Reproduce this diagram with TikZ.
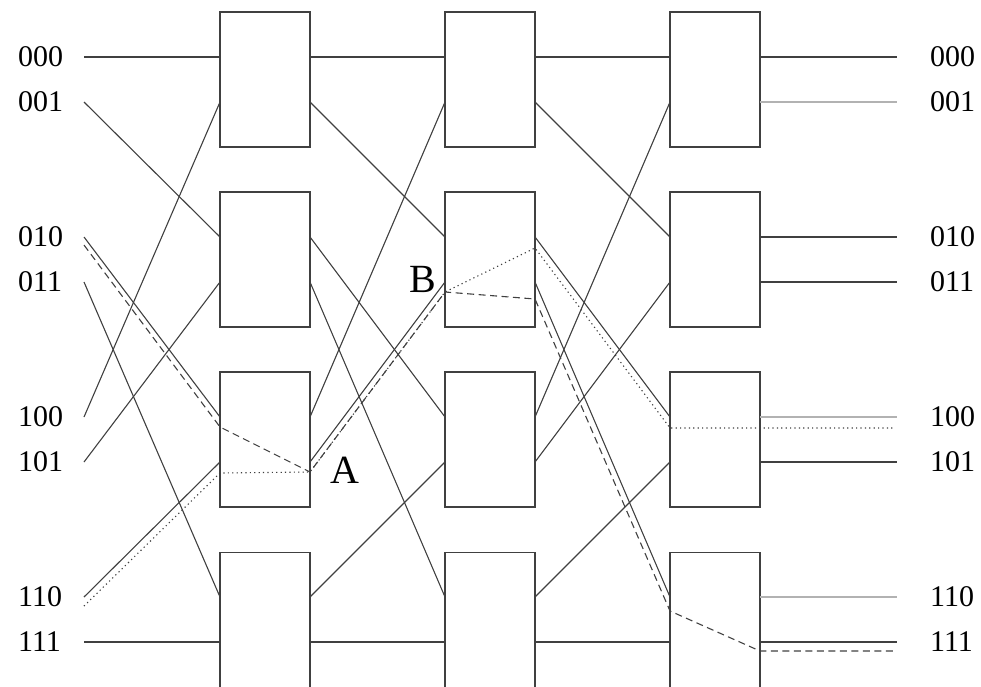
\documentclass[tikz,border=0pt]{standalone}
\usepackage{fontspec}
\setmainfont{Liberation Serif}
\begin{document}
\begin{tikzpicture}[x=1pt,y=-1pt,
  wire/.style={draw=black!75,line width=1.1pt},
  greywire/.style={draw=black!30,line width=1.1pt},
  sw/.style={draw=black!75,line width=1.1pt,fill=white,minimum width=90pt,minimum height=135pt,inner sep=0pt,outer sep=0pt},
  dashpath/.style={draw=black!75,line width=1.1pt,dash pattern=on 7pt off 4.5pt},
  dotpath/.style={draw=black!75,line width=1.1pt,dash pattern=on 1.2pt off 3.2pt},
  lab/.style={font=\fontsize{30}{30}\selectfont,inner sep=0pt,anchor=west},
  big/.style={font=\fontsize{40}{40}\selectfont,inner sep=0pt}]
\useasboundingbox (0,0) rectangle (981,686);
% switch boxes
\foreach \c/\x in {1/265,2/490,3/715}{
  \foreach \r/\y in {1/79.5,2/259.5,3/439.5,4/620}{
    \node[sw] (s\c\r) at (\x,\y) {};
  }
}
% ports and terminals
\foreach \k/\y/\t in {0/57/000,1/102/001,2/237/010,3/282/011,4/417/100,5/462/101,6/597/110,7/642/111}{
  \coordinate (in\k) at (84,\y);
  \coordinate (out\k) at (897,\y);
  \coordinate (P1L\k) at (220,\y);
  \coordinate (P1R\k) at (310,\y);
  \coordinate (P2L\k) at (445,\y);
  \coordinate (P2R\k) at (535,\y);
  \coordinate (P3L\k) at (670,\y);
  \coordinate (P3R\k) at (760,\y);
  \node[lab] (li\k) at (18,\y) {\t};
  \node[lab] (lo\k) at (930,\y) {\t};
}
% perfect shuffle wiring
\foreach \a/\b in {0/0,1/2,2/4,3/6,4/1,5/3,6/5,7/7}{
  \draw[wire] (in\a) -- (P1L\b);
  \draw[wire] (P1R\a) -- (P2L\b);
  \draw[wire] (P2R\a) -- (P3L\b);
}
% outputs
\foreach \k in {0,2,3,5,7}{ \draw[wire] (P3R\k) -- (out\k); }
\foreach \k in {1,4,6}{ \draw[greywire] (P3R\k) -- (out\k); }
% highlighted paths
\coordinate (A) at (310,472);
\coordinate (B) at (445,292);
\coordinate (d0) at (84,245);
\coordinate (d1) at (220,427);
\coordinate (d2) at (535,299);
\coordinate (d3) at (670,611);
\coordinate (d4) at (760,651);
\coordinate (d5) at (897,651);
\coordinate (t0) at (84,606);
\coordinate (t1) at (220,473);
\coordinate (t2) at (535,248);
\coordinate (t3) at (670,428);
\coordinate (t4) at (893,428);
\draw[dashpath] (d0) -- (d1) -- (A) -- (B) -- (d2) -- (d3) -- (d4) -- (d5);
\draw[dotpath] (t0) -- (t1) -- (A) -- (B) -- (t2) -- (t3) -- (t4);
\node[big] (labA) at (345,470) {A};
\node[big] (labB) at (423,279) {B};
\end{tikzpicture}
\end{document}
